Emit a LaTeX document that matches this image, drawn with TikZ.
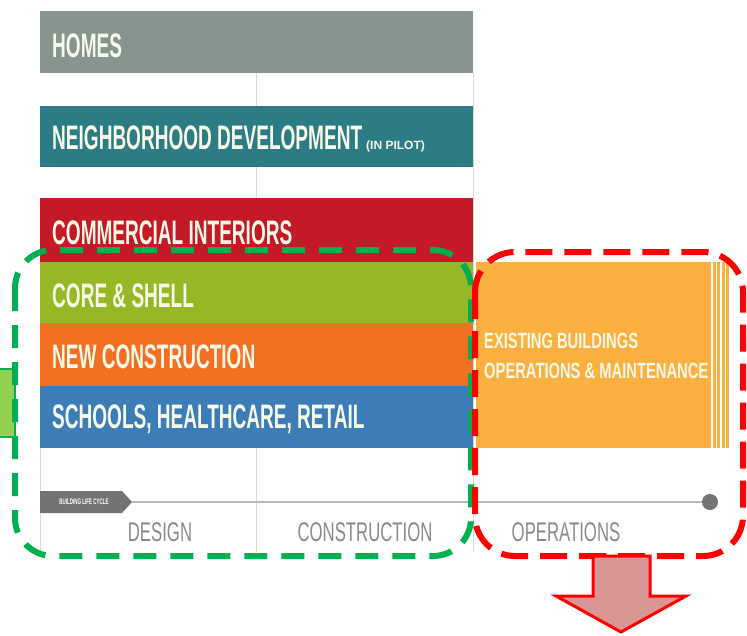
\documentclass[tikz,border=0pt]{standalone}
\usepackage{fontspec}
\setmainfont{Liberation Sans}
\newfontfamily\barfont[FakeStretch=0.56]{Liberation Sans}
\newfontfamily\ebfont[FakeStretch=0.67]{Liberation Sans}
\newfontfamily\stagefont[FakeStretch=0.62]{Liberation Sans}

\definecolor{homesgrey}{HTML}{879591}
\definecolor{ndteal}{HTML}{2C7C86}
\definecolor{cired}{HTML}{C41A27}
\definecolor{csgreen}{HTML}{97B826}
\definecolor{ncorange}{HTML}{F36F21}
\definecolor{shblue}{HTML}{3C7DB8}
\definecolor{ebyellow}{HTML}{FBB03F}
\definecolor{barwhite}{HTML}{F8F8E8}
\definecolor{gridgrey}{HTML}{D9D9D9}
\definecolor{stagegrey}{HTML}{8A8A8A}
\definecolor{markgreen}{HTML}{00B050}
\definecolor{lightgreen}{HTML}{92D050}
\definecolor{arrowpink}{HTML}{D99694}

\begin{document}
\begin{tikzpicture}[x=1pt,y=1pt,yscale=-1,xscale=1,
  bartext/.style={anchor=base west,inner sep=0pt,text=barwhite,font=\barfont\bfseries\fontsize{34}{34}\selectfont},
  ebtext/.style={anchor=base west,inner sep=0pt,text=barwhite,font=\ebfont\bfseries\fontsize{22}{22}\selectfont},
  stagetext/.style={anchor=base,inner sep=0pt,text=stagegrey,font=\stagefont\fontsize{27}{27}\selectfont},
  dashbox/.style={line width=6pt,rounded corners=38pt}]
\useasboundingbox (0,0) rectangle (747,635);

%Straight Lines: panel grid
\draw [gridgrey]   (256,73) -- (256,552) ;
\draw [gridgrey]   (40,448) -- (40,552) ;
\draw [gridgrey]   (473,73) -- (473,552) ;

%Shape: Rectangle bars
\fill [homesgrey]  (40,11) rectangle (473,73) ;
\fill [ndteal]     (40,106) rectangle (473,167) ;
\fill [cired]      (40,198) rectangle (473,262) ;
\fill [csgreen]    (40,262) rectangle (473,323) ;
\fill [ncorange]   (40,323) rectangle (473,386) ;
\fill [shblue]     (40,386) rectangle (473,448) ;

% Text Node
\node [bartext] (homes) at (52,57) {HOMES};
\node [bartext] (nd) at (52,149) {NEIGHBORHOOD DEVELOPMENT};
\node [anchor=base west,inner sep=0pt,text=barwhite,font=\bfseries\fontsize{12}{12}\selectfont] (pilot) at (366,149) {(IN PILOT)};
\node [bartext] (ci) at (52,244) {COMMERCIAL INTERIORS};
\node [bartext] (cs) at (52,307) {CORE \& SHELL};
\node [bartext] (nc) at (52,368) {NEW CONSTRUCTION};
\node [bartext] (sh) at (52,428) {SCHOOLS, HEALTHCARE, RETAIL};

%Shape: Rectangle existing buildings
\fill [ebyellow]   (476,262) rectangle (729,448) ;
\draw [white,line width=1.6pt]   (712,262) -- (712,448) ;
\draw [white,line width=1.4pt]   (716.5,262) -- (716.5,448) ;
\draw [white,line width=1.4pt]   (721,262) -- (721,448) ;
\draw [white,line width=1.4pt]   (725.5,262) -- (725.5,448) ;

% Text Node
\node [ebtext] (eb) at (484,348) {EXISTING BUILDINGS};
\node [ebtext] (om) at (484,378) {OPERATIONS \& MAINTENANCE};

%Shape: life cycle tag
\fill [gray!90!black]   (40,491) -- (122,491) -- (132,502) -- (122,513) -- (40,513) -- cycle ;
\coordinate (tagtip) at (132,502) ;
\node [inner sep=0pt,text=white,font=\barfont\bfseries\fontsize{8}{8}\selectfont] (lifecycle) at (84,502) {BUILDING LIFE CYCLE};
\node [circle,fill=gray!90!black,inner sep=0pt,minimum size=16pt] (lcdot) at (710,502) {};
%Straight Lines
\draw [gray!55,line width=1.2pt]   (tagtip) -- (lcdot) ;

% Text Node
\node [stagetext] (design) at (160,541) {DESIGN};
\node [stagetext] (construction) at (365,541) {CONSTRUCTION};
\node [stagetext] (operations) at (566,541) {OPERATIONS};

%Shape: Rectangle small marker
\draw [markgreen,fill=lightgreen,line width=2pt]   (-3,369) rectangle (15,437) ;

%Rounded Rect dashed
\draw [dashbox,markgreen,dash pattern=on 23pt off 14pt]   (15,250) rectangle (471,556) ;
\draw [dashbox,red,dash pattern=on 27pt off 12pt,rounded corners=40pt]   (475,252) rectangle (743,556) ;

%Down Arrow
\draw [red,fill=arrowpink,line width=3pt,line join=miter]   (593,556) -- (650,556) -- (650,596) -- (686,596) -- (621,632) -- (556,596) -- (593,596) -- cycle ;

\end{tikzpicture}
\end{document}
